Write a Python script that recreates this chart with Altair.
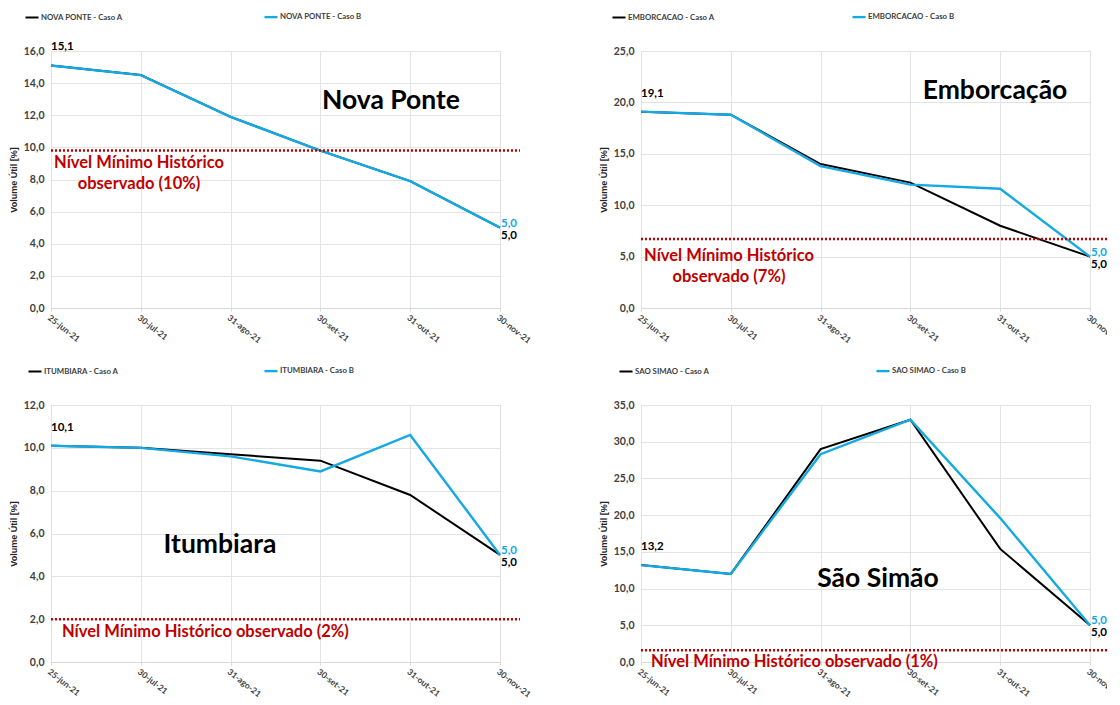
import altair as alt
import pandas as pd

# ---------------- data ----------------
dates = ["25-jun-21", "30-jul-21", "31-ago-21", "30-set-21", "31-out-21", "30-nov-21"]

nova_ponte_a = [15.1, 14.5, 11.9, 9.8, 7.9, 5.0]
nova_ponte_b = [15.1, 14.5, 11.9, 9.8, 7.9, 5.0]
nova_ponte_min = 9.8

emborcacao_a = [19.1, 18.8, 14.0, 12.2, 8.0, 5.0]
emborcacao_b = [19.1, 18.8, 13.8, 12.0, 11.6, 5.0]
emborcacao_min = 6.7

itumbiara_a = [10.1, 10.0, 9.7, 9.4, 7.8, 5.0]
itumbiara_b = [10.1, 10.0, 9.6, 8.9, 10.6, 5.0]
itumbiara_min = 2.0

sao_simao_a = [13.2, 12.0, 29.0, 33.0, 15.4, 5.0]
sao_simao_b = [13.2, 12.0, 28.3, 33.0, 19.6, 5.0]
sao_simao_min = 1.6

panel_titles = ["Nova Ponte", "Emborcação", "Itumbiara", "São Simão"]
legend_names = ["NOVA PONTE", "EMBORCACAO", "ITUMBIARA", "SAO SIMAO"]
min_labels = [
    ["Nível Mínimo Histórico", "observado (10%)"],
    ["Nível Mínimo Histórico", "observado (7%)"],
    "Nível Mínimo Histórico observado (2%)",
    "Nível Mínimo Histórico observado (1%)",
]
y_max = [16, 25, 12, 35]
y_step = [2, 5, 2, 5]

# ---------------- style ----------------
W, H = 449, 257
BLUE = "#14A9E3"
BLACK = "#000000"
RED = "#C00000"
GRID = "#e3e3e3"
LBLFONT = "Lato, Liberation Sans, sans-serif"
SANS = "Liberation Sans, Arial, sans-serif"
TITLEFONT = "Lato, Open Sans, sans-serif"
FMT = "replace(format(datum.value, '.1f'), '.', ',')"


def panel(i, a_vals, b_vals, min_val, title_xy, min_align, min_x, min_dy,
          rule_ext, legend_x, col_pad):
    name = legend_names[i]
    sa, sb = f"{name} - Caso A", f"{name} - Caso B"
    df = pd.DataFrame({
        "date": dates * 2,
        "value": a_vals + b_vals,
        "serie": [sa] * len(dates) + [sb] * len(dates),
    })
    x = alt.X(
        "date:N", sort=dates, title=None,
        scale=alt.Scale(type="point", padding=0),
        axis=alt.Axis(labelAngle=38, labelAlign="left", labelBaseline="top",
                      grid=True, gridColor=GRID, domainColor="#d9d9d9",
                      tickColor="#d9d9d9", tickSize=3, labelPadding=2,
                      labelFont=LBLFONT, labelFontSize=8.5,
                      labelFontWeight="bold", labelColor="#404040"),
    )
    y = alt.Y(
        "value:Q", title="Volume Útil [%]",
        scale=alt.Scale(domain=[0, y_max[i]], nice=False, zero=True),
        axis=alt.Axis(values=list(range(0, y_max[i] + 1, y_step[i])),
                      labelExpr=FMT, labelOverlap=False, grid=True,
                      gridColor=GRID, domain=False,
                      ticks=False, labelPadding=7, titlePadding=5,
                      labelFont=LBLFONT, labelFontSize=10.5,
                      labelFontWeight="bold", labelColor="#404040",
                      titleFont=SANS, titleFontSize=9, titleFontWeight="bold",
                      titleColor="#262626"),
    )
    base = alt.Chart(df)
    lines = base.mark_line().encode(
        x=x, y=y,
        color=alt.Color(
            "serie:N",
            scale=alt.Scale(domain=[sa, sb], range=[BLACK, BLUE]),
            legend=alt.Legend(
                title=None, orient="none", legendX=legend_x, legendY=-42,
                direction="horizontal", symbolType="stroke",
                symbolStrokeWidth=2, symbolSize=170, labelOffset=1,
                padding=0, columnPadding=col_pad, labelFont=LBLFONT,
                labelFontSize=7.8, labelFontWeight="bold",
                labelColor="#404040"),
        ),
        strokeWidth=alt.StrokeWidth(
            "serie:N", scale=alt.Scale(domain=[sa, sb], range=[2.0, 2.4]),
            legend=None),
    )
    lbl = base.transform_calculate(lbl=FMT)
    first_lbl = lbl.transform_filter(
        (alt.datum.serie == sa) & (alt.datum.date == dates[0])
    ).mark_text(align="left", baseline="middle", dy=-18, font=LBLFONT,
                fontSize=11.5, fontWeight="bold", color=BLACK).encode(
        x=x, y=y, text="lbl:N")
    end_b = lbl.transform_filter(
        (alt.datum.serie == sb) & (alt.datum.date == dates[-1])
    ).mark_text(align="left", baseline="middle", dy=-4, dx=1, font=LBLFONT,
                fontSize=11.5, fontWeight="bold", color=BLUE).encode(
        x=x, y=y, text="lbl:N")
    end_a = lbl.transform_filter(
        (alt.datum.serie == sa) & (alt.datum.date == dates[-1])
    ).mark_text(align="left", baseline="middle", dy=8, dx=1, font=LBLFONT,
                fontSize=11.5, fontWeight="bold", color=BLACK).encode(
        x=x, y=y, text="lbl:N")

    mdf = pd.DataFrame({"value": [min_val]})
    rule = alt.Chart(mdf).mark_rule(
        color=RED, strokeDash=[2, 2], strokeWidth=2.5, clip=False
    ).encode(y=y, x=alt.value(0), x2=alt.value(W + rule_ext))
    min_txt = alt.Chart(mdf).mark_text(
        text=min_labels[i], align=min_align, baseline="top", dy=min_dy,
        font=TITLEFONT, fontSize=16.5, fontWeight="bold", color=RED,
        lineHeight=21
    ).encode(y=y, x=alt.value(min_x))

    tdf = pd.DataFrame({"t": [panel_titles[i]]})
    title = alt.Chart(tdf).mark_text(
        align="center", baseline="middle", font=TITLEFONT, fontSize=26.5,
        fontWeight="bold", color=BLACK
    ).encode(text="t:N", x=alt.value(title_xy[0]), y=alt.value(title_xy[1]))

    return alt.layer(lines, rule, first_lbl, end_b, end_a, min_txt,
                     title).properties(width=W, height=H)


p1 = panel(0, nova_ponte_a, nova_ponte_b, nova_ponte_min, (340, 50),
           "center", 88, 4, 20, -27, 136)
p2 = panel(1, emborcacao_a, emborcacao_b, emborcacao_min, (354, 40),
           "center", 88, 9, 25, -30, 132)
p3 = panel(2, itumbiara_a, itumbiara_b, itumbiara_min, (169, 140),
           "left", 11, 5, 20, -24, 140)
p4 = panel(3, sao_simao_a, sao_simao_b, sao_simao_min, (237, 174),
           "left", 10, 4, 25, -23, 161)

chart = alt.concat(
    p1, p2, p3, p4, columns=2,
    spacing={"row": 97, "column": 141}, bounds="flush"
).resolve_scale(color="independent", strokeWidth="independent").resolve_legend(
    color="independent"
).properties(
    padding={"left": 0, "top": 0, "right": -16, "bottom": -1}
).configure_view(stroke=None).configure(background="white")

chart.save("out.html", embed_options={"renderer": "svg", "actions": False})
